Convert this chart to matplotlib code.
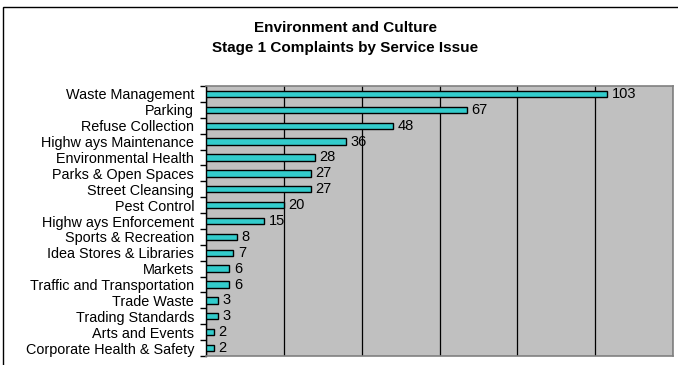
import matplotlib.pyplot as plt
from matplotlib.patches import Rectangle

plt.rcParams['font.family'] = ['Liberation Sans', 'DejaVu Sans']

categories = ['Waste Management', 'Parking', 'Refuse Collection', 'Highw ays Maintenance',
              'Environmental Health', 'Parks & Open Spaces', 'Street Cleansing', 'Pest Control',
              'Highw ays Enforcement', 'Sports & Recreation', 'Idea Stores & Libraries', 'Markets',
              'Traffic and Transportation', 'Trade Waste', 'Trading Standards', 'Arts and Events',
              'Corporate Health & Safety']
complaints = [103, 67, 48, 36, 28, 27, 27, 20, 15, 8, 7, 6, 6, 3, 3, 2, 2]
x_ticks = [0, 20, 40, 60, 80, 100, 120]

W, H = 678, 365
fig = plt.figure(figsize=(W / 100, H / 100), dpi=100)

# outer chart frame (only top/left visible in the crop)
fig.patches.append(Rectangle((3 / W, -0.1), 1.1, (H - 7) / H + 0.1, transform=fig.transFigure,
                             fill=False, edgecolor='black', linewidth=1.0))

left, right, top, bottom = 206, 673, 86, 356
ax = fig.add_axes([left / W, 1 - bottom / H, (right - left) / W, (bottom - top) / H])
ax.set_facecolor('#C0C0C0')

n = len(categories)
ypos = list(range(n))
ax.barh(ypos, complaints, height=0.4, color='#33CCCC', edgecolor='black', linewidth=1.0, zorder=3)
for y, v in zip(ypos, complaints):
    ax.text(v + 1.2, y, str(v), va='center', ha='left', fontsize=10.5, color='black', zorder=4)

ax.set_xlim(0, 120)
ax.set_ylim(n - 0.5, -0.5)
ax.set_xticks(x_ticks)
ax.set_xticklabels([])
ax.tick_params(axis='x', length=0)
ax.xaxis.grid(True, color='black', linewidth=0.9)
ax.set_axisbelow(True)

ax.set_yticks(ypos)
ax.set_yticklabels(categories, fontsize=10.4)
ax.tick_params(axis='y', which='major', length=0, pad=8.5)
ax.set_yticks([i - 0.5 for i in range(n + 1)], minor=True)
ax.tick_params(axis='y', which='minor', length=4, width=1, color='black')

for s in ['top', 'right', 'bottom']:
    ax.spines[s].set_color('#808080')
    ax.spines[s].set_linewidth(1.2)
ax.spines['left'].set_color('black')
ax.spines['left'].set_linewidth(1.0)

fig.text(345 / W, 1 - 28 / H, 'Environment and Culture', ha='center', va='center',
         fontsize=11, fontweight='bold')
fig.text(345 / W, 1 - 48 / H, 'Stage 1 Complaints by Service Issue', ha='center', va='center',
         fontsize=11, fontweight='bold')

fig.savefig('out.png', dpi=100)
